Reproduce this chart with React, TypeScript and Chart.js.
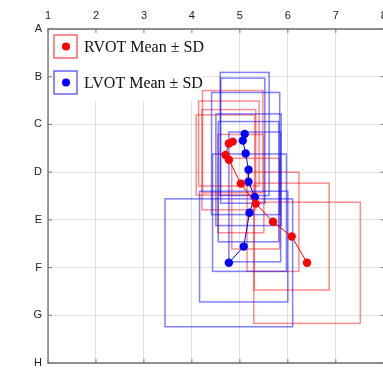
import React, { useEffect, useRef } from "react";
import { Chart, registerables } from "chart.js";

Chart.register(...registerables);

// X ticks 1..8 (top axis), Y categories A..H (top to bottom)
const xTickValues = [1, 2, 3, 4, 5, 6, 7, 8];
const yLabels = ["A", "B", "C", "D", "E", "F", "G", "H"];

// RVOT means and SDs (y in category units, A = 0)
const rvotX = [4.85, 4.77, 4.70, 4.77, 5.02, 5.33, 5.69, 6.08, 6.40];
const rvotY = [2.36, 2.40, 2.64, 2.74, 3.24, 3.66, 4.04, 4.35, 4.90];
const rvotSdX = [0.63, 0.63, 0.61, 0.56, 0.48, 0.50, 0.54, 0.78, 1.11];
const rvotSdY = [1.07, 0.89, 0.84, 1.05, 1.03, 0.95, 1.04, 1.12, 1.27];

// LVOT means and SDs
const lvotX = [5.10, 5.06, 5.12, 5.18, 5.18, 5.31, 5.20, 5.08, 4.77];
const lvotY = [2.20, 2.34, 2.61, 2.95, 3.20, 3.52, 3.85, 4.56, 4.90];
const lvotSdX = [0.51, 0.46, 0.71, 0.68, 0.63, 0.54, 0.77, 0.92, 1.33];
const lvotSdY = [1.29, 1.31, 1.28, 1.17, 1.26, 1.36, 1.23, 1.16, 1.34];

const legendLabels = ["RVOT Mean \u00B1 SD", "LVOT Mean \u00B1 SD"];

const RED = "rgb(255,0,0)";
const BLUE = "rgb(0,0,255)";
const RED_BOX = "rgba(255,0,0,0.45)";
const BLUE_BOX = "rgba(0,0,255,0.5)";

function toPoints(xs: number[], ys: number[]) {
  return xs.map((x, i) => ({ x, y: ys[i] }));
}

const boxesPlugin = {
  id: "sdBoxes",
  beforeDatasetsDraw(chart: any) {
    const { ctx, chartArea } = chart;
    const xs = chart.scales.x;
    const ys = chart.scales.y;
    ctx.save();
    // legend background (white)
    ctx.fillStyle = "#ffffff";
    ctx.fillRect(chartArea.left + 1, chartArea.top + 2, 154, 70);
    ctx.beginPath();
    ctx.rect(chartArea.left, chartArea.top, chartArea.right - chartArea.left, chartArea.bottom - chartArea.top);
    ctx.clip();
    const drawSet = (mx: number[], my: number[], sx: number[], sy: number[], color: string) => {
      ctx.strokeStyle = color;
      ctx.lineWidth = 1.5;
      for (let i = 0; i < mx.length; i++) {
        const x1 = xs.getPixelForValue(mx[i] - sx[i]);
        const x2 = xs.getPixelForValue(mx[i] + sx[i]);
        const y1 = ys.getPixelForValue(my[i] - sy[i]);
        const y2 = ys.getPixelForValue(my[i] + sy[i]);
        ctx.strokeRect(Math.min(x1, x2), Math.min(y1, y2), Math.abs(x2 - x1), Math.abs(y2 - y1));
      }
    };
    drawSet(rvotX, rvotY, rvotSdX, rvotSdY, RED_BOX);
    drawSet(lvotX, lvotY, lvotSdX, lvotSdY, BLUE_BOX);
    ctx.restore();
  },
  afterDraw(chart: any) {
    const { ctx, chartArea } = chart;
    const xs = chart.scales.x;
    const ys = chart.scales.y;
    ctx.save();
    // frame lines (left, top, bottom)
    ctx.strokeStyle = "#6e6e6e";
    ctx.lineWidth = 1.3;
    ctx.beginPath();
    ctx.moveTo(chartArea.right + 3, chartArea.top);
    ctx.lineTo(chartArea.left, chartArea.top);
    ctx.lineTo(chartArea.left, chartArea.bottom);
    ctx.lineTo(chartArea.right + 3, chartArea.bottom);
    ctx.stroke();
    // inward tick marks
    ctx.lineWidth = 1;
    ctx.strokeStyle = "#777";
    ctx.beginPath();
    for (let i = 0; i < yLabels.length; i++) {
      const y = ys.getPixelForValue(i);
      ctx.moveTo(chartArea.left, y);
      ctx.lineTo(chartArea.left + 4, y);
      ctx.moveTo(chartArea.right + 1, y);
      ctx.lineTo(chartArea.right - 3, y);
    }
    for (const v of xTickValues) {
      const x = xs.getPixelForValue(v);
      ctx.moveTo(x, chartArea.bottom);
      ctx.lineTo(x, chartArea.bottom - 4);
      ctx.moveTo(x, chartArea.top);
      ctx.lineTo(x, chartArea.top + 4);
    }
    ctx.stroke();

    // legend
    const items = [
      { label: legendLabels[0], color: RED, box: "rgba(255,0,0,0.7)" },
      { label: legendLabels[1], color: BLUE, box: "rgba(0,0,255,0.7)" },
    ];
    items.forEach((it, i) => {
      const bx = chartArea.left + 6;
      const by = chartArea.top + 6 + i * 36;
      ctx.strokeStyle = it.box;
      ctx.lineWidth = 1.3;
      ctx.strokeRect(bx, by, 23, 23);
      ctx.fillStyle = it.color;
      ctx.beginPath();
      ctx.arc(bx + 12, by + 11.5, 4, 0, Math.PI * 2);
      ctx.fill();
      ctx.fillStyle = "#111";
      ctx.font = '16px "Liberation Serif", "Times New Roman", serif';
      ctx.textBaseline = "middle";
      ctx.textAlign = "left";
      ctx.fillText(it.label, bx + 30, by + 12.5);
    });
    ctx.restore();
  },
};

export default function App() {
  const ref = useRef<HTMLCanvasElement | null>(null);
  useEffect(() => {
    document.body.style.margin = "0";
    document.body.style.overflow = "hidden";
    const canvas = ref.current;
    if (!canvas) return;
    const chart = new Chart(canvas, {
      type: "scatter",
      data: {
        datasets: [
          {
            label: legendLabels[0],
            data: toPoints(rvotX, rvotY),
            showLine: true,
            borderColor: RED,
            borderWidth: 1,
            backgroundColor: RED,
            pointBackgroundColor: RED,
            pointBorderWidth: 0,
            pointRadius: 4.2,
          },
          {
            label: legendLabels[1],
            data: toPoints(lvotX, lvotY),
            showLine: true,
            borderColor: BLUE,
            borderWidth: 1,
            backgroundColor: BLUE,
            pointBackgroundColor: BLUE,
            pointBorderWidth: 0,
            pointRadius: 4.2,
          },
        ],
      },
      options: {
        animation: false,
        responsive: false,
        devicePixelRatio: 1,
        layout: { padding: { top: 0, left: 0, right: 0, bottom: 5 } },
        plugins: { legend: { display: false }, tooltip: { enabled: false } },
        scales: {
          x: {
            type: "linear",
            position: "top",
            min: 1,
            max: 8,
            ticks: {
              stepSize: 1,
              color: "#222",
              padding: 6,
              font: { family: '"Liberation Sans", Arial, sans-serif', size: 11 },
              callback: (v: any) => (xTickValues.includes(Number(v)) ? String(v) : ""),
            },
            grid: { color: "#e0e0e0", lineWidth: 1, drawTicks: false },
            border: { display: false },
            afterFit: (s: any) => {
              s.height = 29;
              s.paddingLeft = 0;
              s.paddingRight = 0;
            },
          },
          y: {
            type: "linear",
            reverse: true,
            min: 0,
            max: 7,
            ticks: {
              stepSize: 1,
              color: "#222",
              padding: 6,
              font: { family: '"Liberation Sans", Arial, sans-serif', size: 11 },
              callback: (v: any) => yLabels[Number(v)] ?? "",
            },
            grid: { color: "#e0e0e0", lineWidth: 1, drawTicks: false },
            border: { display: false },
            afterFit: (s: any) => {
              s.width = 48;
              s.paddingTop = 0;
              s.paddingBottom = 0;
            },
          },
        },
      },
      plugins: [boxesPlugin],
    });
    return () => chart.destroy();
  }, []);
  return (
    <div style={{ width: 383, height: 368, overflow: "hidden" }}>
      <canvas ref={ref} width={388} height={368} style={{ display: "block" }} />
    </div>
  );
}
